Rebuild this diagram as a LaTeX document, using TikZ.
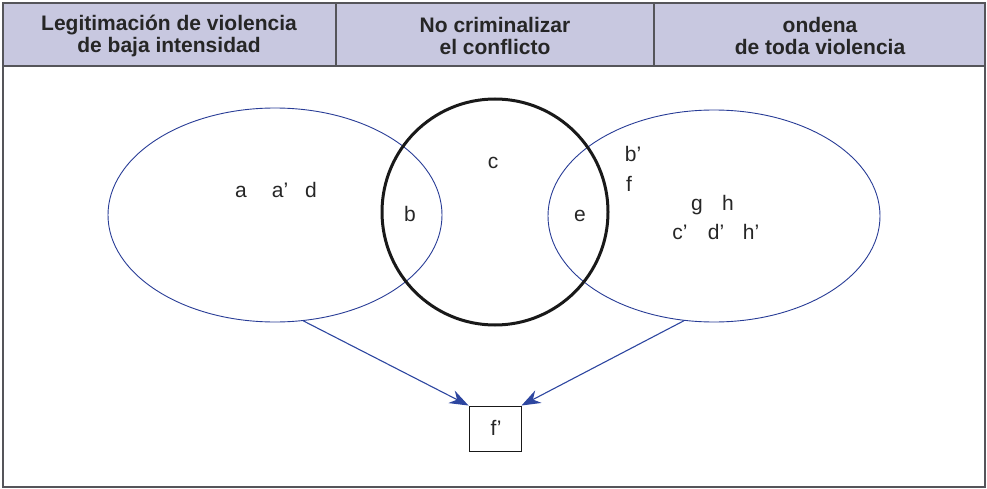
\documentclass[tikz,border=0pt]{standalone}
\usepackage{fontspec}
\setmainfont{Liberation Sans}
\usetikzlibrary{shapes.geometric,arrows.meta}
\definecolor{hdr}{RGB}{200,200,224}
\definecolor{frm}{RGB}{85,85,90}
\definecolor{eblue}{RGB}{40,60,150}
\definecolor{ablue}{RGB}{45,70,160}
\tikzset{
  hdrtext/.style={font=\fontsize{21}{22.5}\selectfont\bfseries, align=center, text=black!85},
  lbl/.style={font=\fontsize{21}{24}\selectfont, text=black!85, inner sep=0pt, anchor=base},
  setell/.style={ellipse, draw=eblue, line width=0.9pt, inner sep=0pt},
  conn/.style={draw=ablue, line width=1.1pt, -{Stealth[length=19pt,width=14pt]}},
}
\begin{document}
\begin{tikzpicture}[x=1pt,y=-1pt]
\useasboundingbox (0,0) rectangle (987,489);
% header
\fill[hdr] (3,3) rectangle (985,66);
\draw[frm, line width=2pt] (3,3) rectangle (985,487);
\draw[frm, line width=2pt] (3,66) -- (985,66);
\draw[frm, line width=1.6pt] (336,3) -- (336,66);
\draw[frm, line width=1.6pt] (654,3) -- (654,66);
\node[hdrtext] (h1) at (169,36) {Legitimación de violencia\\de baja intensidad};
\node[hdrtext] (h2) at (495,36) {No criminalizar\\el conflicto};
\node[hdrtext] (h3) at (820,36) {ondena\\de toda violencia};
% sets
\node[setell, minimum width=334pt, minimum height=214pt] (L) at (275,215) {};
\node[setell, minimum width=332pt, minimum height=212pt] (R) at (714,216) {};
\node[circle, draw=black!90, line width=3pt, minimum size=226pt, inner sep=0pt] (C) at (495,212) {};
% labels
\node[lbl] (a) at (241,197) {a};
\node[lbl] (a2) at (280,197) {a’};
\node[lbl] (d) at (311,197) {d};
\node[lbl] (b) at (410,221) {b};
\node[lbl] (c) at (493,169) {c};
\node[lbl] (e) at (580,222) {e};
\node[lbl] (b2) at (633,162) {b’};
\node[lbl] (f) at (629,192) {f};
\node[lbl] (g) at (697,211) {g};
\node[lbl] (h) at (728,211) {h};
\node[lbl] (c2) at (680,239) {c’};
\node[lbl] (d2) at (716,239) {d’};
\node[lbl] (h2l) at (751,239) {h’};
% result box
\node[draw=black!90, line width=1pt, minimum width=52pt, minimum height=45pt, inner sep=0pt] (fp) at (495,428.5) {};
\node[lbl] (fpt) at (496,435) {f’};
% connectors
\draw[conn] (L.-75.7) -- (fp.north west);
\draw[conn] (R.-106.6) -- (fp.north east);
\end{tikzpicture}
\end{document}
